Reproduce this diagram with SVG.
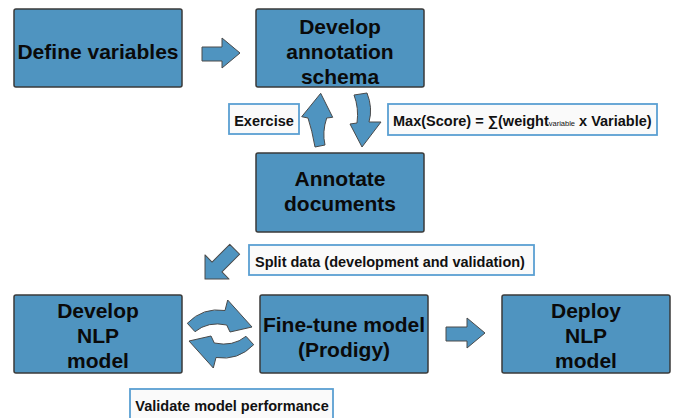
<svg xmlns="http://www.w3.org/2000/svg" width="675" height="418" viewBox="0 0 675 418">
<style>
.box{fill:#4f94c0;stroke:#3a3a3a;stroke-width:1.5}
.arr{fill:#4f94c0;stroke:#4a4a4a;stroke-width:1;stroke-linejoin:round}
.lab{fill:#fafafa;stroke:#5a9fd2;stroke-width:1.8}
.big{font-family:"Liberation Sans",Arial,sans-serif;font-weight:bold;font-size:21px;fill:#0a0a0a;text-anchor:middle}
.sm{font-family:"Liberation Sans",Arial,sans-serif;font-weight:bold;font-size:14.5px;fill:#111}
</style>
<rect width="675" height="418" fill="#fff"/>
<g id="define-variables">
<rect class="box" x="14" y="9" width="168" height="78" rx="2"/>
<text class="big" x="98" y="59">Define variables</text>
</g>
<g id="develop-schema">
<rect class="box" x="256" y="9" width="168" height="78" rx="2"/>
<text class="big" x="340" y="33.5">Develop</text>
<text class="big" x="340" y="58.5">annotation</text>
<text class="big" x="340" y="83.5">schema</text>
</g>
<g id="annotate-documents">
<rect class="box" x="256" y="153" width="168" height="79" rx="2"/>
<text class="big" x="340" y="186">Annotate</text>
<text class="big" x="340" y="211">documents</text>
</g>
<g id="develop-nlp">
<rect class="box" x="14" y="295" width="168" height="78" rx="2"/>
<text class="big" x="98" y="317.5">Develop</text>
<text class="big" x="98" y="343">NLP</text>
<text class="big" x="98" y="368">model</text>
</g>
<g id="fine-tune">
<rect class="box" x="260" y="295" width="168" height="78" rx="2"/>
<text class="big" x="344" y="331.5">Fine-tune model</text>
<text class="big" x="344" y="356.5">(Prodigy)</text>
</g>
<g id="deploy-nlp">
<rect class="box" x="502" y="295" width="168" height="78" rx="2"/>
<text class="big" x="586" y="317.5">Deploy</text>
<text class="big" x="586" y="343">NLP</text>
<text class="big" x="586" y="368">model</text>
</g>
<g id="label-exercise">
<rect class="lab" x="229" y="104" width="70" height="30"/>
<text class="sm" x="264" y="126" text-anchor="middle">Exercise</text>
</g>
<g id="label-max">
<rect class="lab" x="388" y="104" width="269" height="31"/>
<text class="sm" x="393" y="126">Max(Score) = ∑(weight<tspan font-size="7.5" font-weight="normal">variable</tspan> x Variable)</text>
</g>
<g id="label-split">
<rect class="lab" x="249" y="245" width="285" height="30"/>
<text class="sm" x="390" y="267" text-anchor="middle">Split data (development and validation)</text>
</g>
<g id="label-validate">
<rect class="lab" x="130" y="389" width="203" height="34"/>
<text class="sm" x="232" y="411" text-anchor="middle">Validate model performance</text>
</g>
<g id="connectors">
<path class="arr" d="M202 47 H222 V38 L240 53 L222 68 V61 H202 Z"/>
<path class="arr" d="M446 327 H467 V318 L485 333 L467 348 V341 H446 Z"/>
<path class="arr" d="M320.7 93.3 L332.7 117.3 L326.7 118 Q322 132 325 145 L315 147 Q312 130 308 118 L301.7 116.7 Z"/>
<path class="arr" d="M354 95 L367 93 Q373 108 369 122 L381 122 L362 147 L350 124 L357 123 Q359 108 354 95 Z"/>
<path class="arr" transform="translate(205 279) rotate(135)" d="M0 0 L-17 -17 L-17 -7 L-42 -7 L-42 7 L-17 7 L-17 17 Z"/>
<path id="cycle-top" class="arr" d="M187.3 323.3 Q203 307 225 310.5 L227.7 300 L252 327 L230 332 L226.7 325 Q208 321 195 331.7 Z"/>
<path class="arr" transform="rotate(180 220.5 334)" d="M187.3 323.3 Q203 307 225 310.5 L227.7 300 L252 327 L230 332 L226.7 325 Q208 321 195 331.7 Z"/>
</g>
</svg>
